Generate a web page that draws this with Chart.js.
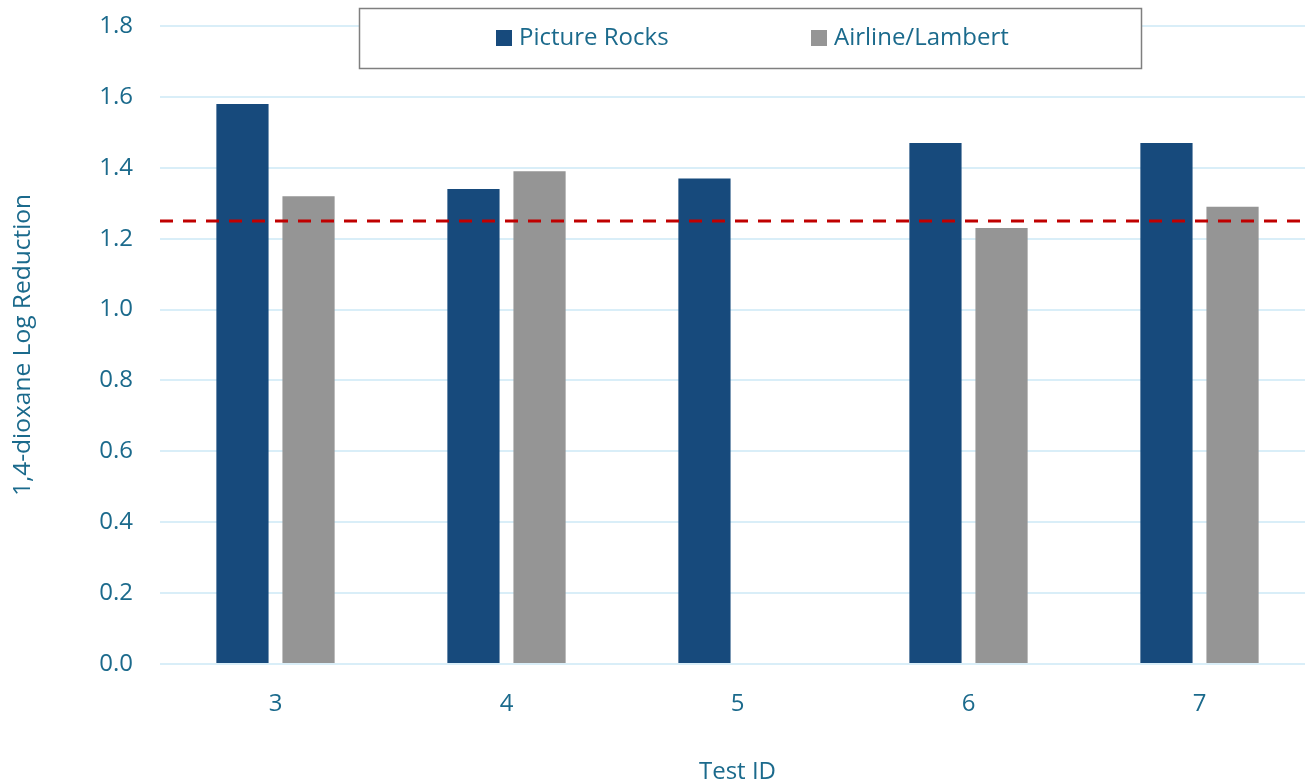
<!DOCTYPE html>
<html>
<head>
<meta charset="utf-8">
<title>1,4-dioxane Log Reduction</title>
<script src="https://cdn.jsdelivr.net/npm/chart.js@4.4.1/dist/chart.umd.min.js"></script>
<style>
  html, body { margin: 0; padding: 0; background: #fff; overflow: hidden; }
  #wrap { position: relative; width: 1315px; height: 782px; }
</style>
</head>
<body>
<div id="wrap"><canvas id="chart"></canvas></div>
<script>
'use strict';

// --- data ---
const testIds = ['3', '4', '5', '6', '7'];
const pictureRocks = [1.58, 1.34, 1.37, 1.47, 1.47];
const airlineLambert = [1.32, 1.39, null, 1.23, 1.29];
const threshold = 1.25;
const yTicks = [0, 0.2, 0.4, 0.6, 0.8, 1.0, 1.2, 1.4, 1.6, 1.8];

const TEXT = '#1B6A8C';
const GRID = '#D9EEF8';
const FONT = "'Open Sans', 'Noto Sans', sans-serif";

/* dashed threshold line, drawn over the bars */
const thresholdLine = {
  id: 'thresholdLine',
  afterDatasetsDraw(chart) {
    const { ctx, chartArea, scales } = chart;
    const y = scales.y.getPixelForValue(threshold);
    ctx.save();
    ctx.strokeStyle = '#C00000';
    ctx.lineWidth = 3;
    ctx.setLineDash([13, 10]);
    ctx.beginPath();
    ctx.moveTo(chartArea.left, y);
    ctx.lineTo(chartArea.right, y);
    ctx.stroke();
    ctx.restore();
  }
};

/* boxed legend sitting on top of the plot */
const boxedLegend = {
  id: 'boxedLegend',
  afterDraw(chart) {
    const ctx = chart.ctx;
    const box = { x: 359, y: 8, w: 782, h: 60 };
    ctx.save();
    ctx.fillStyle = '#fff';
    ctx.fillRect(box.x, box.y, box.w, box.h);
    ctx.strokeStyle = '#7F7F7F';
    ctx.lineWidth = 1.5;
    ctx.strokeRect(box.x + 0.5, box.y + 0.5, box.w, box.h);

    const itemX = [496, 811];
    ctx.font = '24px ' + FONT;
    ctx.textBaseline = 'middle';
    chart.data.datasets.forEach((ds, i) => {
      const cy = box.y + box.h / 2;
      ctx.fillStyle = ds.backgroundColor;
      ctx.fillRect(itemX[i], cy - 8, 16, 16);
      ctx.fillStyle = TEXT;
      ctx.fillText(ds.label, itemX[i] + 23, cy);
    });
    ctx.restore();
  }
};

new Chart(document.getElementById('chart'), {
  type: 'bar',
  data: {
    labels: testIds,
    datasets: [
      {
        label: 'Picture Rocks',
        data: pictureRocks,
        backgroundColor: '#174A7C',
        categoryPercentage: 0.572,
        barPercentage: 0.79,
      },
      {
        label: 'Airline/Lambert',
        data: airlineLambert,
        backgroundColor: '#959595',
        categoryPercentage: 0.572,
        barPercentage: 0.79,
      }
    ]
  },
  options: {
    responsive: true,
    maintainAspectRatio: false,
    animation: false,
    layout: { padding: { top: 26, left: 0, right: 0, bottom: 0 } },
    plugins: {
      legend: { display: false },
      tooltip: { enabled: false }
    },
    scales: {
      x: {
        grid: { display: false },
        border: { display: false },
        ticks: { color: TEXT, font: { family: FONT, size: 24 }, padding: 18 },
        title: {
          display: true,
          text: 'Test ID',
          color: TEXT,
          font: { family: FONT, size: 24 },
          padding: { top: 38, bottom: -5 }
        },
        afterFit(scale) { scale.height = 118; }
      },
      y: {
        min: 0,
        max: 1.8,
        afterBuildTicks(scale) { scale.ticks = yTicks.map(v => ({ value: v })); },
        grid: { color: GRID, lineWidth: 2, drawTicks: false },
        border: { display: false },
        ticks: {
          color: TEXT,
          font: { family: FONT, size: 24 },
          padding: 27,
          callback: v => v.toFixed(1)
        },
        title: {
          display: true,
          text: '1,4-dioxane Log Reduction',
          color: TEXT,
          font: { family: FONT, size: 24.5 },
          padding: { top: 8, bottom: 0 }
        },
        afterFit(scale) {
          scale.width = 160;
          scale.paddingTop = 0;
          scale.paddingBottom = 0;
        }
      }
    }
  },
  plugins: [thresholdLine, boxedLegend]
});
</script>
</body>
</html>
